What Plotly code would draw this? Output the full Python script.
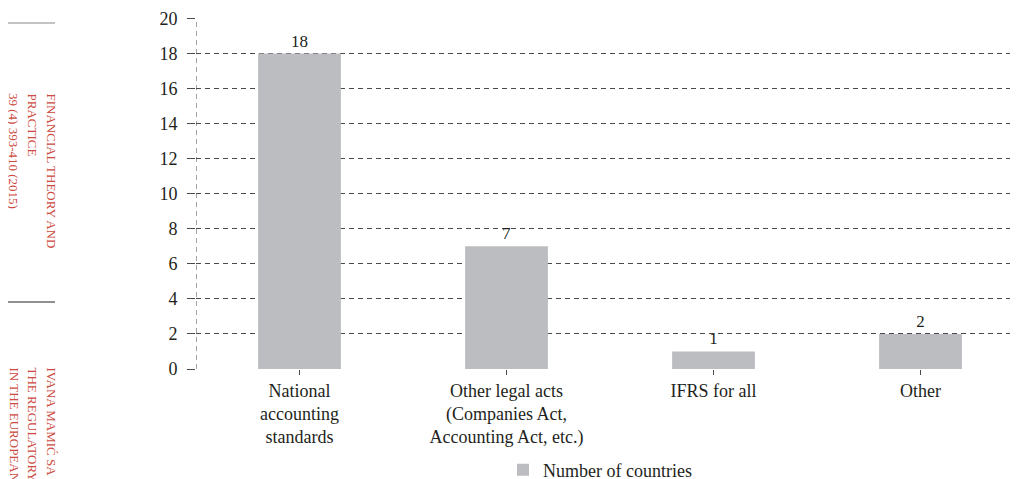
import plotly.graph_objects as go

categories = ["National<br>accounting<br>standards",
              "Other legal acts<br>(Companies Act,<br>Accounting Act, etc.)",
              "IFRS for all",
              "Other"]
values = [18, 7, 1, 2]
series_name = "Number of countries"
y_ticks = list(range(0, 21, 2))

margin_block1 = ["FINANCIAL THEORY AND", "PRACTICE", "39 (4) 393-410 (2015)"]
margin_block2 = ["IVANA MAMIĆ SA", "THE REGULATORY", "IN THE EUROPEAN"]

FONT = "Liberation Serif"
TXT = "#231f20"
GRID = "#4a4a4a"
RED = "#cc4a40"
DASH = "5px,4px"

OFF = 8  # page body margin of the browser
W, H = 1018 - OFF, 479 - OFF
L, R, T, B = 196 - OFF, 0, 18 - OFF, 110
PW, PH = W - L - R, H - T - B


def px(p):
    """window pixel x -> paper x"""
    return (p - OFF - L) / PW


def py(p):
    """window pixel y -> paper y"""
    return (H - B - (p - OFF)) / PH


fig = go.Figure()
fig.add_trace(go.Bar(
    x=list(range(len(categories))), y=values, name=series_name,
    marker=dict(color="#bcbdc1", line=dict(width=0)),
    width=0.4,
    text=[str(v) for v in values], textposition="outside",
    textfont=dict(family=FONT, size=17, color=TXT),
    cliponaxis=False, showlegend=True,
))

fig.update_layout(
    width=W, height=H,
    margin=dict(l=L, r=R, t=T, b=B, autoexpand=False),
    paper_bgcolor="white", plot_bgcolor="white",
    font=dict(family=FONT, size=18, color=TXT),
    showlegend=True,
    legend=dict(orientation="h", x=px(600), xanchor="center", y=py(470), yanchor="middle",
                font=dict(family=FONT, size=18, color=TXT), itemwidth=30),
)
fig.update_xaxes(
    tickmode="array", tickvals=list(range(len(categories))), ticktext=categories,
    range=[-0.5, 3.471], tickson="boundaries", ticks="outside", ticklen=5,
    tickcolor=GRID, tickwidth=1, showgrid=False, zeroline=False, showline=False,
    tickfont=dict(family=FONT, size=18, color=TXT),
)
fig.update_yaxes(
    range=[0, 20.03], tickvals=y_ticks, ticks="outside", ticklen=8, tickcolor=GRID,
    showgrid=True, gridcolor=GRID, griddash=DASH, gridwidth=1,
    zeroline=False, showline=False, ticklabelstandoff=6,
    tickfont=dict(family=FONT, size=18, color=TXT),
)
# dashed vertical axis line
fig.add_shape(type="line", xref="x", yref="paper", x0=-0.5, x1=-0.5, y0=0, y1=1,
              line=dict(color=GRID, width=1, dash=DASH))
# page margin decorations
fig.add_shape(type="line", xref="paper", yref="paper",
              x0=px(8), x1=px(55), y0=py(23), y1=py(23),
              line=dict(color="#8a8a8a", width=1.2))
fig.add_shape(type="line", xref="paper", yref="paper",
              x0=px(8), x1=px(55), y0=py(302), y1=py(302),
              line=dict(color="#222222", width=1.2))
cols = [51, 32, 14]
for txt, cx in zip(margin_block1, cols):
    fig.add_annotation(xref="paper", yref="paper", x=px(cx), y=py(91),
                       xanchor="center", yanchor="top", showarrow=False, textangle=90,
                       text=txt, font=dict(family=FONT, size=13, color=RED))
for txt, cx in zip(margin_block2, cols):
    fig.add_annotation(xref="paper", yref="paper", x=px(cx), y=py(365),
                       xanchor="center", yanchor="top", showarrow=False, textangle=90,
                       text=txt, font=dict(family=FONT, size=13, color=RED))

fig.write_html("out.html")
